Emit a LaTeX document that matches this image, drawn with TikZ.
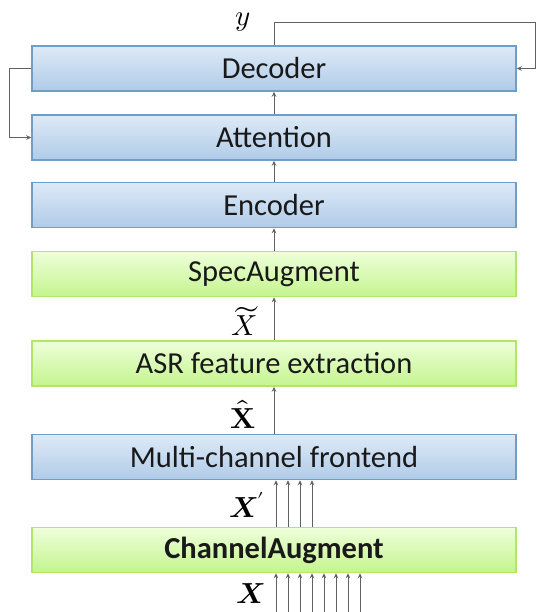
\documentclass[tikz,border=0pt]{standalone}
\usepackage{fontspec}
\usepackage{unicode-math}
\setmainfont{Carlito}
\setmathfont{Latin Modern Math}
\usetikzlibrary{arrows.meta}

\definecolor{bluetop}{HTML}{DDEAF7}
\definecolor{bluebot}{HTML}{B0CBE8}
\definecolor{blueline}{HTML}{6E9DC8}
\definecolor{greentop}{HTML}{EEFFDA}
\definecolor{greenbot}{HTML}{C4F48E}
\definecolor{greenline}{HTML}{AEE866}
\definecolor{wire}{HTML}{616161}

\tikzset{
  blk/.style={minimum width=484pt, minimum height=45pt, inner sep=0pt,
    font=\fontsize{30.5}{36}\selectfont, text=black!90},
  bluebox/.style={blk, draw=blueline, line width=1.5pt,
    top color=bluetop, bottom color=bluebot},
  greenbox/.style={blk, draw=greenline, line width=1.5pt,
    top color=greentop, bottom color=greenbot},
  arr/.style={draw=wire, line width=1pt, -{Stealth[length=5pt,width=4.5pt]}},
  lbl/.style={inner sep=0pt, font=\fontsize{29}{34}\selectfont}
}

\begin{document}
\begin{tikzpicture}[x=1pt,y=-1pt]
\useasboundingbox (0,0) rectangle (536,612);

% processing blocks
\node[bluebox] (dec) at (274,68.5) {Decoder};
\node[bluebox] (att) at (274,137.5) {Attention};
\node[bluebox] (enc) at (274,205) {Encoder};
\node[greenbox] (spa) at (274,274) {SpecAugment};
\node[greenbox] (asr) at (274,363.5) {ASR feature extraction};
\node[bluebox] (mcf) at (274,457) {Multi-channel frontend};
\node[greenbox] (cha) at (274,550) {\textbf{ChannelAugment}};

% signal labels
\node[lbl] (ylab) at (243,22) {$y$};
\node[lbl] (xtil) at (244,321) {$\widetilde{X}$};
\node[lbl] (xhat) at (243,414) {$\hat{\symbf{X}}$};
\node[lbl] (xpr) at (247,505) {$\symbfit{X}'$};
\node[lbl] (xin) at (251,594) {$\symbfit{X}$};

% main flow
\draw[arr] (att.north) -- (dec.south);
\draw[arr] (enc.north) -- (att.south);
\draw[arr] (spa.north) -- (enc.south);
\draw[arr] (asr.north) -- (spa.south);
\draw[arr] (mcf.north) -- (asr.south);

% multi-channel signals
\coordinate (src) at (276,612);
\foreach \i in {0,...,7}
  \draw[arr] ([xshift=\i*12pt]src) -- ([xshift=\i*12pt+2pt]cha.south);
\foreach \i in {0,...,3}
  \draw[arr] ([xshift=\i*12pt+2pt]cha.north) -- ([xshift=\i*12pt+2pt]mcf.south);

% feedback loops
\coordinate (fbr) at (535,23);
\coordinate (fbl) at (9,0);
\draw[arr] (dec.north) |- (fbr) |- (dec.east);
\draw[arr] (dec.west) -- (dec.west -| fbl) |- (att.west);
\end{tikzpicture}
\end{document}
